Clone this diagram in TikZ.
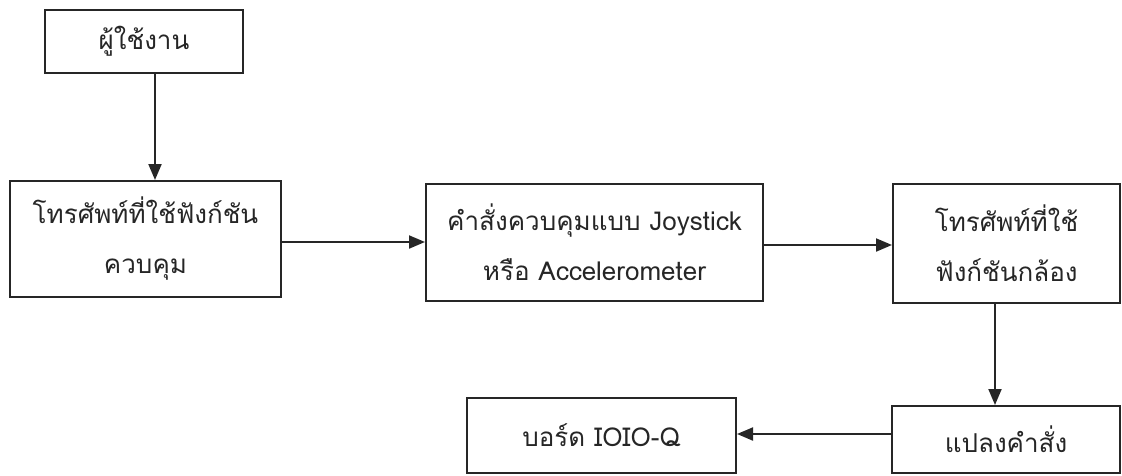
\documentclass[tikz,border=0pt]{standalone}
\usepackage{fontspec}
\newfontfamily\thaifont[Script=Thai]{Loma}
\usetikzlibrary{arrows.meta}
\begin{document}
\begin{tikzpicture}[x=1pt,y=-1pt,
  box/.style={draw=black!85, line width=2pt, align=center, inner sep=0pt,
    font=\thaifont\fontsize{26}{50}\selectfont, text=black!85},
  conn/.style={draw=black!85, line width=2pt, -{Triangle[length=16pt,width=13pt]}}]
\useasboundingbox (0,0) rectangle (1122,475);
\node[box, minimum width=198pt, minimum height=63pt] (b1) at (144,41.5) {ผู้ใช้งาน};
\node[box, minimum width=271pt, minimum height=116pt] (b2) at (145.5,239) {โทรศัพท์ที่ใช้ฟังก์ชัน\\ควบคุม};
\node[box, minimum width=337pt, minimum height=117pt] (b3) at (594.5,242.5) {คำสั่งควบคุมแบบ Joystick\\หรือ Accelerometer};
\node[box, minimum width=227pt, minimum height=119pt] (b4) at (1006.5,243.5) {โทรศัพท์ที่ใช้\\ฟังก์ชันกล้อง};
\node[box, minimum width=228pt, minimum height=67pt] (b5) at (1006,439.5) {แปลงคำสั่ง};
\node[box, minimum width=269pt, minimum height=75pt] (b6) at (601.5,435.5) {บอร์ด IOIO-Q};
\draw[conn] (b1.south -| 155,0) -- (b2.north -| 155,0);
\draw[conn] (b2.east |- 0,242) -- (b3.west |- 0,242);
\draw[conn] (b3.east |- 0,245) -- (b4.west |- 0,245);
\draw[conn] (b4.south -| 995,0) -- (b5.north -| 995,0);
\draw[conn] (b5.west |- 0,434) -- (b6.east |- 0,434);
\end{tikzpicture}
\end{document}
